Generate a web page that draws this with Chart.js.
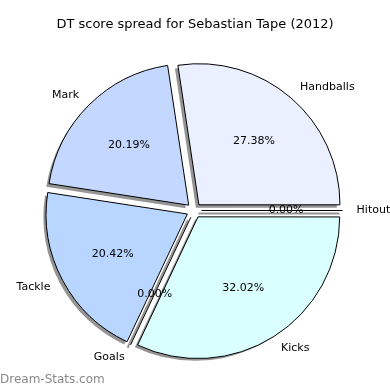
<!DOCTYPE html>
<html>
<head>
<meta charset="utf-8">
<script src="https://cdn.jsdelivr.net/npm/chart.js@4"></script>
<style>
  html, body { margin: 0; padding: 0; background: #fff; }
  #wrap { width: 390px; height: 390px; }
</style>
</head>
<body>
<div id="wrap"><canvas id="dt-chart" width="390" height="390"></canvas></div>
<script>
'use strict';

// slice order is clockwise from 3 o'clock (matplotlib draws counter-clockwise)
const categories = ['Hitout', 'Kicks', 'Goals', 'Tackle', 'Mark', 'Handballs'];
const shares = [0.00, 32.02, 0.00, 20.42, 20.19, 27.38];
const sliceColours = ['#ffffff', '#d9ffff', '#b8d6ff', '#b8d6ff', '#c4d8ff', '#eaf0ff'];
const chartTitle = 'DT score spread for Sebastian Tape (2012)';
const watermark = 'Dream-Stats.com';

const EXPLODE = 30; // Chart.js draws arcs offset / 4 px out
const SHADOW_DX = -3;
const SHADOW_DY = 3;

const drawExtras = {
  id: 'drawExtras',
  beforeDatasetsDraw(chart) {
    const ctx = chart.ctx;
    const arcs = chart.getDatasetMeta(0).data;
    ctx.save();
    ctx.fillStyle = 'rgba(60,60,60,0.55)';
    ctx.strokeStyle = 'rgba(60,60,60,0.55)';
    for (let i = 0; i < arcs.length; i++) {
      const a = arcs[i];
      const mid = (a.startAngle + a.endAngle) / 2;
      const off = EXPLODE / 4;
      const cx = a.x + Math.cos(mid) * off + SHADOW_DX;
      const cy = a.y + Math.sin(mid) * off + SHADOW_DY;
      if (a.endAngle - a.startAngle <= 0) {
        ctx.lineWidth = 2;
        ctx.beginPath();
        ctx.moveTo(cx, cy);
        ctx.lineTo(cx + Math.cos(mid) * a.outerRadius, cy + Math.sin(mid) * a.outerRadius);
        ctx.stroke();
      } else {
        ctx.beginPath();
        ctx.moveTo(cx, cy);
        ctx.arc(cx, cy, a.outerRadius, a.startAngle, a.endAngle);
        ctx.closePath();
        ctx.fill();
      }
    }
    ctx.restore();
  },
  afterDatasetsDraw(chart) {
    const ctx = chart.ctx;
    const arcs = chart.getDatasetMeta(0).data;
    ctx.save();
    ctx.font = '11px "DejaVu Sans"';
    ctx.fillStyle = '#000';
    ctx.textBaseline = 'middle';
    for (let i = 0; i < arcs.length; i++) {
      const a = arcs[i];
      const mid = (a.startAngle + a.endAngle) / 2;
      const off = EXPLODE / 4;
      const cx = a.x + Math.cos(mid) * off;
      const cy = a.y + Math.sin(mid) * off;
      const r = a.outerRadius;
      // zero slices are drawn as a single edge line
      if (a.endAngle - a.startAngle <= 0) {
        ctx.strokeStyle = '#000';
        ctx.lineWidth = 1;
        ctx.beginPath();
        ctx.moveTo(cx, cy);
        ctx.lineTo(cx + Math.cos(mid) * r, cy + Math.sin(mid) * r);
        ctx.stroke();
      }
      const lx = cx + Math.cos(mid) * r * 1.1;
      const ly = cy + Math.sin(mid) * r * 1.1;
      ctx.textAlign = (lx - a.x) > 0 ? 'left' : 'right';
      ctx.fillText(categories[i], lx, ly);
      ctx.textAlign = 'center';
      ctx.fillText(shares[i].toFixed(2) + '%', cx + Math.cos(mid) * r * 0.6, cy + Math.sin(mid) * r * 0.6);
    }
    ctx.font = '13px "DejaVu Sans"';
    ctx.textAlign = 'center';
    ctx.fillText(chartTitle, 195, 25);
    ctx.font = '12px "DejaVu Sans"';
    ctx.fillStyle = '#8a8a8a';
    ctx.textAlign = 'left';
    ctx.fillText(watermark, 0, 380);
    ctx.restore();
  }
};

const dtChart = document.getElementById('dt-chart').getContext('2d');

let myChart = new Chart(dtChart, {
  type: 'pie',
  data: {
    labels: categories,
    datasets: [{
      data: shares,
      backgroundColor: sliceColours,
      borderColor: '#000',
      borderWidth: 1,
      offset: EXPLODE,
      radius: 141
    }]
  },
  options: {
    responsive: false,
    animation: false,
    rotation: 90,
    layout: { padding: { left: 0, right: 2, top: 31, bottom: 0 } },
    plugins: {
      legend: { display: false },
      tooltip: { enabled: false },
      title: { display: false }
    }
  },
  plugins: [drawExtras]
});
</script>
</body>
</html>
